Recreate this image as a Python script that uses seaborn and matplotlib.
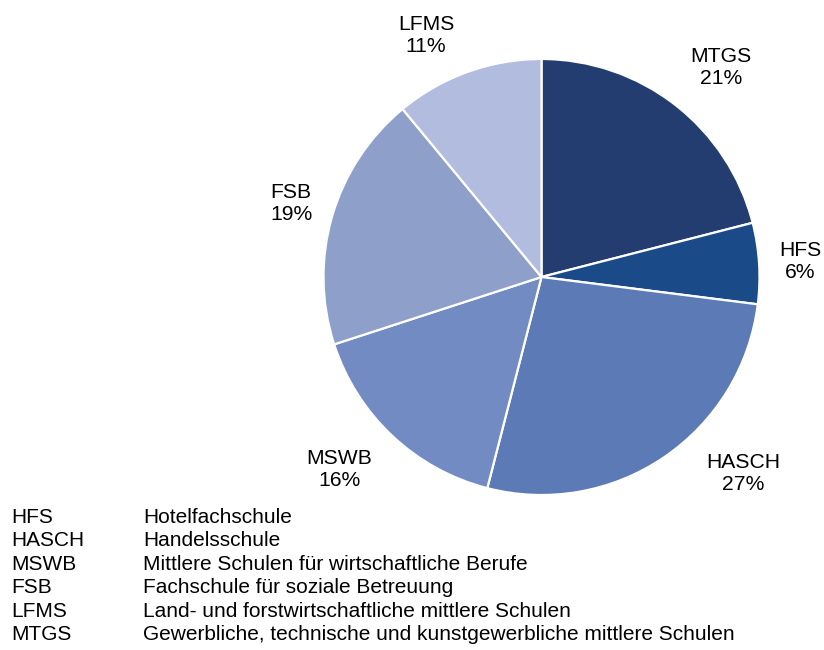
import numpy as np
import matplotlib
matplotlib.use("Agg")
import matplotlib.pyplot as plt
import seaborn as sns

# Anteile der Schulformen (in %), im Uhrzeigersinn ab 12 Uhr
schulformen = ["MTGS", "HFS", "HASCH", "MSWB", "FSB", "LFMS"]
anteile = [21, 6, 27, 16, 19, 11]
farben = ["#243D70", "#1B4A88", "#5C7AB5", "#728CC3", "#8E9FCA", "#B2BCDE"]

# Legende unten (Abkürzung -> Bezeichnung)
legende_kurz = ["HFS", "HASCH", "MSWB", "FSB", "LFMS", "MTGS"]
legende_lang = [
    "Hotelfachschule",
    "Handelsschule",
    "Mittlere Schulen für wirtschaftliche Berufe",
    "Fachschule für soziale Betreuung",
    "Land- und forstwirtschaftliche mittlere Schulen",
    "Gewerbliche, technische und kunstgewerbliche mittlere Schulen",
]

# Lage der Beschriftungen (Mitte, in Pixel), wie im Original verschoben
label_pos_px = [(721, 68), (800, 261), (743, 474), (339, 470), (291, 203), (426, 35)]

sns.set_theme(style="white")
plt.rcParams["font.family"] = ["Liberation Sans", "DejaVu Sans"]

W, H, DPI = 824, 650, 100
fig = plt.figure(figsize=(W / DPI, H / DPI), dpi=DPI)
fig.patch.set_facecolor("white")

# Kreis: Mittelpunkt (541, 277) px, Radius 218 px
cx, cy, r = 541.5, 277, 218
ax = fig.add_axes([(cx - r) / W, (H - cy - r) / H, 2 * r / W, 2 * r / H])

wedges, texts = ax.pie(
    anteile,
    colors=farben,
    startangle=90,
    counterclock=False,
    labels=[f"{s}\n{a}%" for s, a in zip(schulformen, anteile)],
    wedgeprops=dict(edgecolor="white", linewidth=1.6),
    textprops=dict(fontsize=15.2, color="black", linespacing=1.2),
)
ax.set_xlim(-1, 1)
ax.set_ylim(-1, 1)
ax.set_aspect("equal")
ax.axis("off")

for t, (px, py) in zip(texts, label_pos_px):
    t.set_ha("center")
    t.set_va("center")
    t.set_multialignment("center")
    t.set_position(((px - cx) / r, (cy - py) / r))

# Legende als Text-Tabelle
y0, dy = 523, 23.4
for i, (k, l) in enumerate(zip(legende_kurz, legende_lang)):
    yb = 1 - (y0 + i * dy) / H
    fig.text(11 / W, yb, k, fontsize=15, va="baseline", ha="left", color="black")
    fig.text(143 / W, yb, l, fontsize=15, va="baseline", ha="left", color="black")

fig.savefig("out.png", dpi=DPI, facecolor="white")
